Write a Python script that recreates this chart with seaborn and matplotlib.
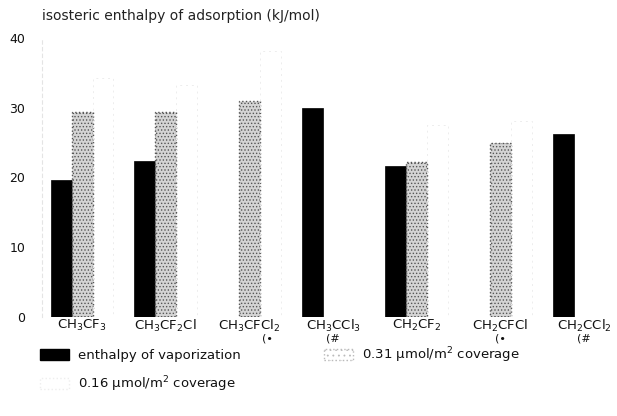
import numpy as np
import pandas as pd
import matplotlib
matplotlib.use("Agg")
import matplotlib.pyplot as plt
import matplotlib.transforms as mtransforms
from matplotlib.patches import Patch
import seaborn as sns

sns.set_theme(style="white")
plt.rcParams['font.family'] = ['DejaVu Sans']
plt.rcParams['hatch.linewidth'] = 0.6
plt.rcParams['hatch.color'] = '#6a6a6a'

# data (kJ/mol)
compounds = ["CH$_3$CF$_3$", "CH$_3$CF$_2$Cl", "CH$_3$CFCl$_2$", "CH$_3$CCl$_3$",
             "CH$_2$CF$_2$", "CH$_2$CFCl", "CH$_2$CCl$_2$"]
footnotes = ["", "", "(•", "(#", "", "(•", "(#"]
vaporization = [19.7, 22.4, np.nan, 30.0, 21.7, np.nan, 26.3]
coverage_031 = [29.4, 29.4, 31.0, np.nan, 22.2, 24.9, np.nan]
coverage_016 = [34.3, 33.3, 38.1, np.nan, 27.5, 28.1, np.nan]
series = ["enthalpy of vaporization",
          "0.31 µmol/m$^2$ coverage",
          "0.16 µmol/m$^2$ coverage"]
y_ticks = [0, 10, 20, 30, 40]

df = pd.DataFrame({
    'compound': compounds * 3,
    'series': np.repeat(series, len(compounds)),
    'value': vaporization + coverage_031 + coverage_016,
}).dropna()

fig = plt.figure(figsize=(6.17, 4.16), dpi=100)
ax = fig.add_axes([42 / 617, 1 - 317 / 416, 1 - 42 / 617, (317 - 38) / 416])

sns.barplot(data=df, x='compound', y='value', hue='series', order=compounds,
            hue_order=series, palette=['black', '#d4d4d4', 'white'],
            width=0.75, gap=0, saturation=1, legend=False, ax=ax)

# scanned-print look: solid black, stippled grey, barely visible outline
for cont, name in zip(ax.containers, series):
    for bar in cont:
        if name == series[0]:
            bar.set_edgecolor('black')
            bar.set_linewidth(0.5)
        elif name == series[1]:
            bar.set_hatch('.....')
            bar.set_edgecolor('#555555')
            bar.set_linestyle(':')
            bar.set_linewidth(1.0)
        else:
            bar.set_facecolor('none')
            bar.set_edgecolor('#ededed')
            bar.set_linestyle((0, (2, 4)))
            bar.set_linewidth(0.7)

ax.set_xlim(-0.479, 6.395)
ax.set_ylim(0, 40)
ax.set_yticks(y_ticks)
ax.set_yticklabels([str(t) for t in y_ticks], fontsize=9, color='#111111')
ax.tick_params(axis='y', length=0, pad=12)
ax.tick_params(axis='x', length=0, pad=1, labelsize=9.5, labelcolor='#111111')
ax.set_xlabel("")
ax.set_ylabel("")
for side in ['top', 'right', 'bottom']:
    ax.spines[side].set_visible(False)
ax.spines['left'].set_color('#e4e4e4')
ax.spines['left'].set_linestyle((0, (3, 3)))
ax.spines['left'].set_linewidth(0.8)

# footnote marks under some compound names
note_shift = [0, 0, 0.22, 0, 0, 0, 0]
trans = mtransforms.blended_transform_factory(ax.transData, ax.transAxes)
for i, note in enumerate(footnotes):
    if note:
        ax.text(i + note_shift[i], -0.076, note, transform=trans, ha='center',
                va='center', fontsize=8, color='#111111')

fig.text(42 / 617, 1 - 20 / 416, "isosteric enthalpy of adsorption (kJ/mol)",
         fontsize=10, color='#222222', ha='left', va='baseline')

handles = [
    Patch(facecolor='black', edgecolor='black'),
    Patch(facecolor='white', edgecolor='#eeeeee', linestyle=':'),
    Patch(facecolor='white', edgecolor='#bbbbbb', linestyle=':', hatch='...'),
]
labels = [series[0], series[2], series[1]]
fig.legend(handles, labels, loc='upper left', bbox_to_anchor=(40 / 617, 1 - 345 / 416),
           ncol=2, frameon=False, fontsize=9.5, handlelength=2.2, handleheight=0.9,
           handletextpad=0.7, columnspacing=6.3, labelspacing=0.95,
           borderpad=0, borderaxespad=0, labelcolor='#111111')

fig.savefig("out.png", dpi=100)
